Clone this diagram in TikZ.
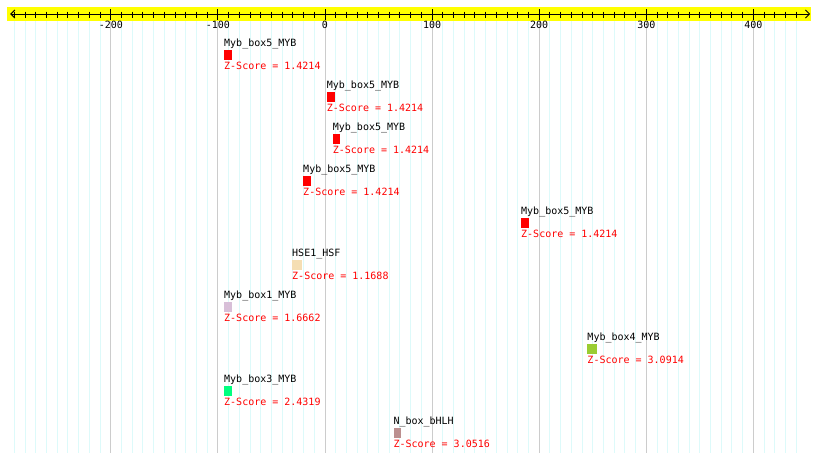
\documentclass[tikz,border=0pt]{standalone}
\usepackage{fontspec}
\setmonofont{DejaVu Sans Mono}
\usepackage{tikz}
\usetikzlibrary{positioning, arrows.meta}
\definecolor{axisbar}{HTML}{FFFF00}
\definecolor{gridcyan}{HTML}{DDFAFA}
\definecolor{gridgray}{HTML}{CCCCCC}
\definecolor{zred}{HTML}{FF0000}
\definecolor{mybred}{HTML}{FF0000}
\definecolor{hsewheat}{HTML}{F5DEB3}
\definecolor{mybthistle}{HTML}{D8BFD8}
\definecolor{mybgreen}{HTML}{9ACD32}
\definecolor{mybspring}{HTML}{00FF7F}
\definecolor{bhlhrose}{HTML}{BC8F8F}

\begin{document}
\begin{tikzpicture}[x=1pt, y=-1pt, font=\ttfamily\fontsize{10}{12}\selectfont,
 motif/.style={inner sep=0pt, minimum height=10.5pt, anchor=north west},
 motifname/.style={inner sep=0pt, text height=7pt, text depth=0pt},
 zscore/.style={inner sep=0pt, text height=7pt, text depth=0pt, text=zred},
 ticklabel/.style={inner sep=0pt, text height=7pt, text depth=0pt}]
\useasboundingbox (0,0) rectangle (820,463);
\fill[axisbar] (7,7) rectangle (811,21);

\begin{scope}[shift={(325,0)}, x=1.071pt]
\foreach \u in {-290,-280,...,440}
  {\draw[gridcyan, line width=1pt] (\u,21) -- (\u,453);
   \draw[line width=1pt] (\u,11.5) -- (\u,17.5);}
\foreach \u [count=\k] in {-200,-100,...,400}
  {\draw[gridgray, line width=1pt] (\u,21) -- (\u,453);
   \draw[line width=1pt] (\u,9) -- (\u,20);
   \node[ticklabel] (tick\k) at (\u,24.5) {\u};}

\coordinate (axisL) at (-294,14);
\coordinate (axisR) at (453,14);
\draw[line width=1pt, {Straight Barb[length=4pt,width=8pt]}-{Straight Barb[length=4pt,width=8pt]}] (axisL) -- (axisR);

\foreach \u/\w/\c/\name/\z [count=\i] in
  {-94.3/8/mybred/{Myb\_box5\_MYB}/1.4214,
   1.6/8/mybred/{Myb\_box5\_MYB}/1.4214,
   7.2/7.3/mybred/{Myb\_box5\_MYB}/1.4214,
   -20.5/8/mybred/{Myb\_box5\_MYB}/1.4214,
   183/8/mybred/{Myb\_box5\_MYB}/1.4214,
   -30.8/10/hsewheat/{HSE1\_HSF}/1.1688,
   -94.3/8/mybthistle/{Myb\_box1\_MYB}/1.6662,
   244.9/9.4/mybgreen/{Myb\_box4\_MYB}/3.0914,
   -94.3/8/mybspring/{Myb\_box3\_MYB}/2.4319,
   63.8/7.7/bhlhrose/{N\_box\_bHLH}/3.0516}
  {\node[motif, fill=\c, minimum width=\w] (box\i) at (\u,{49.3+42*(\i-1)}) {};
   \node[motifname, above right=3pt and 0pt of box\i.north west] (name\i) {\name};
   \node[zscore, below right=2.5pt and 0pt of box\i.south west] (z\i) {Z-Score = \z};}
\end{scope}

\end{tikzpicture}
\end{document}
